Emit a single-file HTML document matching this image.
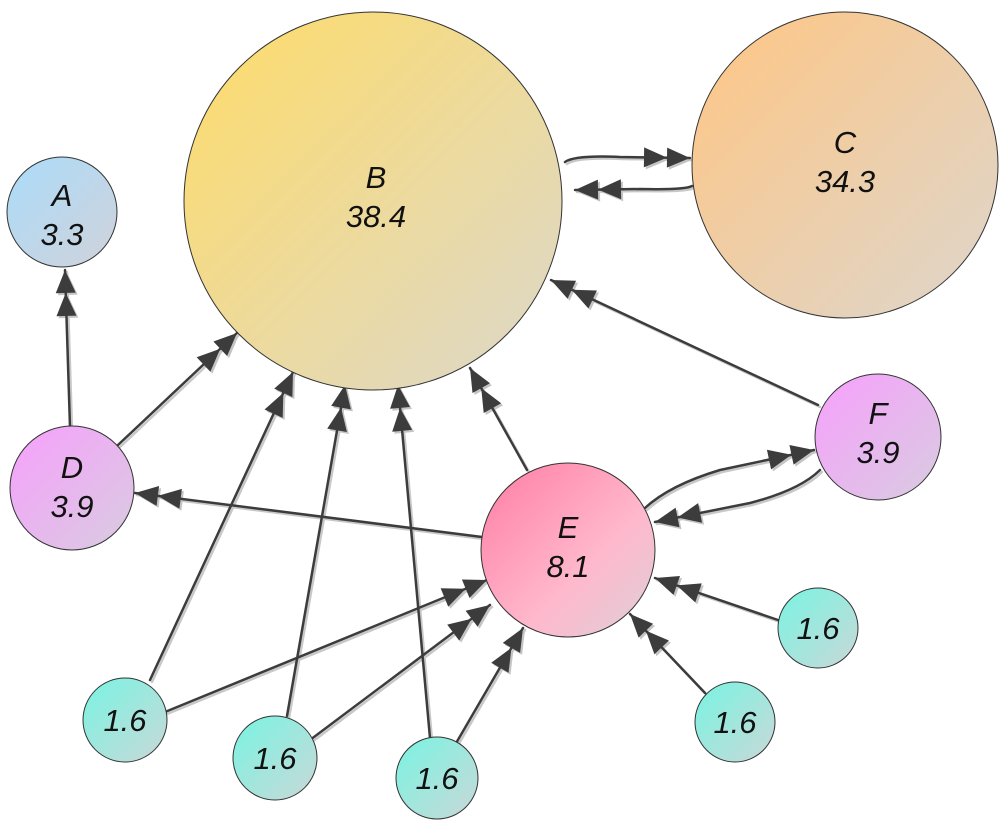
<!DOCTYPE html>
<html><head><meta charset="utf-8"><style>
html,body{margin:0;padding:0;background:#fff;}
svg{display:block;}
text{font-family:"Liberation Sans",sans-serif;font-style:italic;font-size:31px;fill:#111;text-anchor:middle;}
</style></head><body>
<svg width="1000" height="827" viewBox="0 0 1000 827" xmlns="http://www.w3.org/2000/svg">
<defs>
<linearGradient id="gA" x1="0" y1="0" x2="1" y2="1"><stop offset="0" stop-color="#abdcfa"/><stop offset="1" stop-color="#d0d2da"/></linearGradient>
<linearGradient id="gB" x1="0" y1="0" x2="1" y2="1"><stop offset="0" stop-color="#ffdc68"/><stop offset="1" stop-color="#dcd8cc"/></linearGradient>
<linearGradient id="gC" x1="0" y1="0" x2="1" y2="1"><stop offset="0" stop-color="#ffc684"/><stop offset="1" stop-color="#ddd6cc"/></linearGradient>
<linearGradient id="gD" x1="0" y1="0" x2="1" y2="1"><stop offset="0" stop-color="#f7a0fc"/><stop offset="1" stop-color="#d8cce0"/></linearGradient>
<linearGradient id="gE" x1="0" y1="0" x2="1" y2="1"><stop offset="0" stop-color="#ff7ca4"/><stop offset="0.6" stop-color="#ffb8cc"/><stop offset="1" stop-color="#ddd0d8"/></linearGradient>
<linearGradient id="gS" x1="0" y1="0" x2="1" y2="1"><stop offset="0" stop-color="#78f4e2"/><stop offset="1" stop-color="#cad8d8"/></linearGradient>
<marker id="m" markerUnits="userSpaceOnUse" markerWidth="60" markerHeight="30" viewBox="-50 -15 52 30" refX="0" refY="0" orient="auto">
<path d="M-46,-10 L-23,0 L-46,10 Z M-23,-10 L0,0 L-23,10 Z" fill="#3c3c3c"/>
</marker>
<marker id="ms" markerUnits="userSpaceOnUse" markerWidth="60" markerHeight="30" viewBox="-50 -15 52 30" refX="0" refY="0" orient="auto">
<path d="M-46,-10 L-23,0 L-46,10 Z M-23,-10 L0,0 L-23,10 Z" fill="#c4c4c4"/>
</marker>
</defs>
<g fill="none" stroke-linecap="round">
<g transform="translate(2,2)" stroke="#c8c8c8" stroke-width="2.5" marker-end="url(#ms)">
<path d="M565,162 Q575,155 620,157 L690,158"/>
<path d="M692,186 Q685,190 640,189 L575,190"/>
<path d="M70,427 L65,270"/>
<path d="M118,445 L237,333"/>
<path d="M527,470 L470,368"/>
<path d="M818,405 L551,280"/>
<path d="M645,508 Q670,485 720,470 L814,450"/>
<path d="M820,470 Q800,490 750,503 L655,522"/>
<path d="M482,537 L135,493"/>
<path d="M150,680 L293,372"/>
<path d="M165,712 L487,580"/>
<path d="M287,716 L345,385"/>
<path d="M310,740 L490,605"/>
<path d="M430,738 L398,385"/>
<path d="M455,745 L523,628"/>
<path d="M778,620 L655,578"/>
<path d="M705,693 L630,614"/>
</g>
<g stroke="#3c3c3c" stroke-width="2.5" marker-end="url(#m)">
<path d="M565,162 Q575,155 620,157 L690,158"/>
<path d="M692,186 Q685,190 640,189 L575,190"/>
<path d="M70,427 L65,270"/>
<path d="M118,445 L237,333"/>
<path d="M527,470 L470,368"/>
<path d="M818,405 L551,280"/>
<path d="M645,508 Q670,485 720,470 L814,450"/>
<path d="M820,470 Q800,490 750,503 L655,522"/>
<path d="M482,537 L135,493"/>
<path d="M150,680 L293,372"/>
<path d="M165,712 L487,580"/>
<path d="M287,716 L345,385"/>
<path d="M310,740 L490,605"/>
<path d="M430,738 L398,385"/>
<path d="M455,745 L523,628"/>
<path d="M778,620 L655,578"/>
<path d="M705,693 L630,614"/>
</g>
</g>
<g stroke="#333" stroke-width="1">
<circle cx="62" cy="212" r="55" fill="url(#gA)"/>
<circle cx="373" cy="201" r="189" fill="url(#gB)"/>
<circle cx="845" cy="165" r="153" fill="url(#gC)"/>
<circle cx="72" cy="488" r="62" fill="url(#gD)"/>
<circle cx="878" cy="437" r="63" fill="url(#gD)"/>
<circle cx="568" cy="550" r="87" fill="url(#gE)"/>
<circle cx="125" cy="720" r="42" fill="url(#gS)"/>
<circle cx="275" cy="758" r="42" fill="url(#gS)"/>
<circle cx="437" cy="778" r="41" fill="url(#gS)"/>
<circle cx="818" cy="628" r="40" fill="url(#gS)"/>
<circle cx="735" cy="722" r="40" fill="url(#gS)"/>
</g>
<text x="62" y="206">A</text><text x="62" y="245">3.3</text>
<text x="376" y="188">B</text><text x="376" y="227">38.4</text>
<text x="845" y="153">C</text><text x="845" y="192">34.3</text>
<text x="72" y="478">D</text><text x="72" y="517">3.9</text>
<text x="878" y="424">F</text><text x="878" y="463">3.9</text>
<text x="568" y="538">E</text><text x="568" y="577">8.1</text>
<text x="125" y="731">1.6</text>
<text x="275" y="769">1.6</text>
<text x="437" y="789">1.6</text>
<text x="818" y="639">1.6</text>
<text x="735" y="733">1.6</text>
</svg>
</body></html>
